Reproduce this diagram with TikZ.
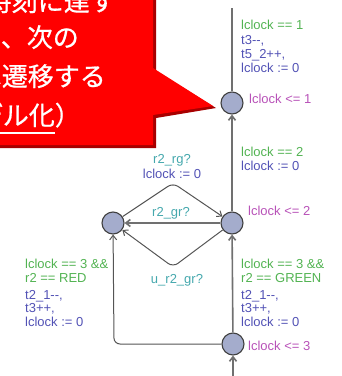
\documentclass[tikz,border=0pt]{standalone}
\usepackage{fontspec}
\setmainfont{Liberation Sans}
\newfontfamily\jpfont[FakeBold=0.7]{Noto Sans CJK JP}
\usetikzlibrary{arrows.meta}
\definecolor{guard}{HTML}{52B352}
\definecolor{assign}{HTML}{5252B5}
\definecolor{inv}{HTML}{B852B8}
\definecolor{sync}{HTML}{45A8AD}
\definecolor{locfill}{HTML}{A4ACCC}
\definecolor{edgegray}{HTML}{707070}
\definecolor{edgedark}{HTML}{555555}
\definecolor{callred}{HTML}{FF0000}
\definecolor{callshadow}{HTML}{A80000}
\begin{document}
\begin{tikzpicture}[x=1pt,y=-1pt,
  loc/.style={circle,draw=black!75,fill=locfill,line width=1.1pt,minimum size=22pt,inner sep=0pt},
  lbl/.style={font=\fontsize{13}{14}\selectfont,inner sep=0pt,anchor=west,text height=9.5pt,text depth=2.5pt},
  clbl/.style={lbl,anchor=center},
  gd/.style={lbl,text=guard},
  asg/.style={lbl,text=assign},
  iv/.style={lbl,text=inv},
  arr/.style={-{Straight Barb[length=4.5pt,width=7pt]}},
  mainedge/.style={arr,draw=edgegray,line width=1.6pt},
  thinedge/.style={arr,draw=edgedark,line width=1pt,rounded corners=6pt},
  jp/.style={font=\jpfont\fontsize{26}{30}\selectfont,text=white,inner sep=0pt,anchor=base east}
]
\useasboundingbox (0,0) rectangle (342,376);
\clip (0,0) rectangle (342,376);

% locations
\node[loc] (s1) at (232,103) {};
\node[loc] (s2) at (232,223) {};
\node[loc] (s3) at (113,223) {};
\node[loc] (s4) at (233,344) {};
\coordinate (top) at (232,8);
\coordinate (init) at (233,380);
\coordinate (apexU) at (173,183);
\coordinate (apexD) at (173,267);
\coordinate (corner) at (114,344);

% edges
\draw[draw=edgegray,line width=1.6pt] (s1) -- (top);
\draw[mainedge] (s2) -- (s1);
\draw[mainedge] (s4) -- (s2);
\draw[mainedge] (init) -- (s4);
\draw[mainedge] (s2) -- (s3);
\draw[thinedge] (s3) -- (apexU) -- (s2);
\draw[thinedge] (s2) -- (apexD) -- (s3);
\draw[thinedge] (s4.west) -- (corner) -- (s3);

% labels right column
\node[gd]  (g1) at (241,26) {lclock == 1};
\node[asg] (a1a) at (241,41) {t3-{}-,};
\node[asg] (a1b) at (241,55) {t5\_2++,};
\node[asg] (a1c) at (241,69) {lclock := 0};
\node[iv]  (i1) at (249,100) {lclock <= 1};

\node[gd]  (g2) at (241,153) {lclock == 2};
\node[asg] (a2) at (241,167) {lclock := 0};
\node[iv]  (i2) at (248,212) {lclock <= 2};

\node[gd]  (g3a) at (241,265) {lclock == 3 \&\&};
\node[gd]  (g3b) at (241,279) {r2 == GREEN};
\node[asg] (a3a) at (241,296) {t2\_1-{}-,};
\node[asg] (a3b) at (241,309) {t3++,};
\node[asg] (a3c) at (241,323) {lclock := 0};
\node[iv]  (i3) at (248,347) {lclock <= 3};

% labels left column
\node[gd]  (g4a) at (25,265) {lclock == 3 \&\&};
\node[gd]  (g4b) at (25,279) {r2 == RED};
\node[asg] (a4a) at (25,296) {t2\_1-{}-,};
\node[asg] (a4b) at (25,309) {t3++,};
\node[asg] (a4c) at (25,323) {lclock := 0};

% middle labels
\node[clbl,text=sync]   (sy1) at (172,160) {r2\_rg?};
\node[clbl,text=assign] (as1) at (172,175) {lclock := 0};
\node[clbl,text=sync]   (sy2) at (171,213) {r2\_gr?};
\node[clbl,text=sync]   (sy3) at (177,280) {u\_r2\_gr?};

% callout
\fill[callshadow] (-10,-10) -- (156,-10) -- (156,71) -- (216,108) -- (156,118) -- (156,148) -- (-10,148) -- cycle;
\fill[callred] (-10,-10) -- (153,-10) -- (153,68) -- (213,106) -- (153,115) -- (153,145) -- (-10,145) -- cycle;
\node[jp] (t1) at (116,11) {一定時刻に達す};
\node[jp] (t2) at (79,47) {ると、次の};
\node[jp] (t3) at (106,86) {状態へ遷移する};
\node[jp] (t4) at (81,125) {（時間のモデル化）};
\draw[white,line width=1.8pt] (0,133) -- (55,133);
\end{tikzpicture}
\end{document}
